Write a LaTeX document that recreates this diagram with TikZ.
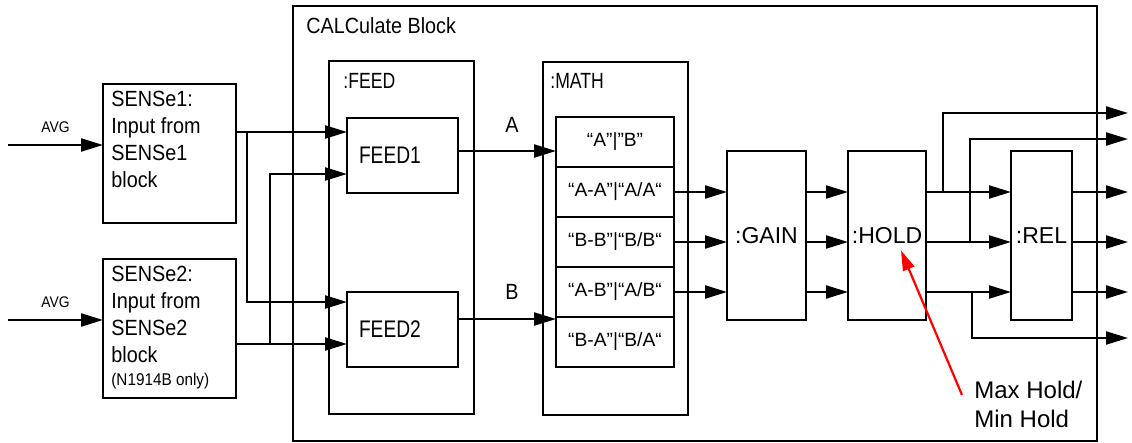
\documentclass[tikz,border=0pt]{standalone}
\usepackage{fontspec}
\setmainfont{Liberation Sans}
\newfontfamily\semifont[FakeStretch=0.9]{Liberation Sans}
\newfontfamily\narrowfont[FakeStretch=0.8]{Liberation Sans}
\usetikzlibrary{arrows.meta,positioning,calc}
\definecolor{HoldRed}{HTML}{FF0000}

\begin{document}
\begin{tikzpicture}[x=0.5pt,y=-0.5pt,
    blk/.style={draw,line width=1.4pt,inner sep=0pt,outer sep=0pt},
    cell/.style={blk,minimum width=59pt,minimum height=25pt,font=\fontsize{9.6}{11}\selectfont},
    stage/.style={blk,minimum height=84.5pt,font=\fontsize{11.5}{13}\selectfont},
    feedbox/.style={blk,minimum height=37.5pt,text width=43.5pt,inner xsep=6pt,
                    align=left,font=\narrowfont\fontsize{12}{14}\selectfont},
    wire/.style={line width=1.1pt},
    arr/.style={wire,-{Triangle[length=11pt,width=6.5pt]}},
    redarr/.style={HoldRed,line width=1.1pt,-{Triangle[length=10pt,width=6pt]}},
    txt/.style={anchor=north west,inner sep=0pt,align=left},
    tag/.style={inner sep=0pt}]
  \useasboundingbox (0,0) rectangle (1132,443);

  % outer block
  \node[blk,anchor=north west,minimum width=402pt,minimum height=217.5pt] (calc) at (293,6) {};
  \node[txt,font=\semifont\fontsize{11}{13}\selectfont] at ($(calc.north west)+(13,11)$) {CALCulate Block};

  % sensor inputs
  \node[blk,anchor=north west,minimum width=66.5pt,minimum height=69.5pt] (sens1) at (103,84) {};
  \node[blk,anchor=north west,minimum width=66.5pt,minimum height=69.5pt] (sens2) at (103,259) {};
  \node[txt,font=\semifont\fontsize{11}{13.5}\selectfont] at ($(sens1.north west)+(8,7)$)
    {SENSe1:\\Input from\\SENSe1\\block};
  \node[txt,font=\semifont\fontsize{11}{13.5}\selectfont] at ($(sens2.north west)+(8,7)$)
    {SENSe2:\\Input from\\SENSe2\\block\\[-2pt]{\fontsize{8.5}{11}\selectfont (N1914B only)}};

  % feed block
  \node[blk,anchor=north west,minimum width=72.5pt,minimum height=176.5pt] (feed) at (329,61) {};
  \node[txt,font=\narrowfont\fontsize{11}{13}\selectfont] at ($(feed.north west)+(14,12)$) {:FEED};
  \node[feedbox,anchor=north west] (feed1) at (347,118) {FEED1};
  \node[feedbox,anchor=north west] (feed2) at (347,292) {FEED2};

  % math block
  \node[blk,anchor=north west,minimum width=72.5pt,minimum height=176.5pt] (math) at (543,62) {};
  \node[txt,font=\narrowfont\fontsize{11}{13}\selectfont] at ($(math.north west)+(7,11)$) {:MATH};
  \node[cell,anchor=north west] (r1) at (556,117) {“A”|”B”};
  \node[cell,below=0pt of r1] (r2) {“A-A”|“A/A“};
  \node[cell,below=0pt of r2] (r3) {“B-B”|“B/B“};
  \node[cell,below=0pt of r3] (r4) {“A-B”|“A/B“};
  \node[cell,below=0pt of r4] (r5) {“B-A”|“B/A“};

  % gain, hold, rel
  \node[stage,anchor=north west,minimum width=39.5pt] (gain) at (727,151) {:GAIN};
  \node[stage,right=21pt of gain,minimum width=39pt] (hold) {:HOLD};
  \node[stage,right=42.5pt of hold,minimum width=30.5pt] (rel) {:REL};

  % inputs
  \coordinate (avg1) at (8,145);
  \coordinate (avg2) at (8,320);
  \draw[arr] (avg1) -- (sens1.west |- avg1)
    node[midway,tag,above=5.5pt,font=\semifont\fontsize{7.7}{9}\selectfont] {AVG};
  \draw[arr] (avg2) -- (sens2.west |- avg2)
    node[midway,tag,above=5.5pt,font=\semifont\fontsize{7.7}{9}\selectfont] {AVG};

  \coordinate (in1a) at ($(feed1.north west)+(0,14)$);
  \coordinate (in1b) at ($(feed1.north west)+(0,56)$);
  \coordinate (in2a) at ($(feed2.north west)+(0,10)$);
  \coordinate (in2b) at ($(feed2.north west)+(0,52)$);
  \draw[arr] (sens1.east |- in1a) -- (in1a);
  \draw[arr] ($(sens1.east |- in1a)+(11,0)$) |- (in2a);
  \draw[arr] (sens2.east |- in2b) -- (in2b);
  \draw[arr] ($(sens2.east |- in2b)+(34,0)$) |- (in1b);

  % feed to math
  \coordinate (pA) at ($(feed1.north east)+(0,33)$);
  \coordinate (pB) at ($(feed2.north east)+(0,27)$);
  \draw[arr] (pA) -- (r1.west |- pA)
    node[pos=0.55,tag,above=8.5pt,font=\semifont\fontsize{11}{13}\selectfont] {A};
  \draw[arr] (pB) -- (r1.west |- pB)
    node[pos=0.55,tag,above=9pt,font=\semifont\fontsize{11}{13}\selectfont] {B};

  % math through gain, hold, rel
  \coordinate (outx) at (1128,0);
  \foreach \row in {r2,r3,r4} {
    \draw[arr] (\row.east) -- (gain.west |- \row.east);
    \draw[arr] (gain.east |- \row.east) -- (hold.west |- \row.east);
    \draw[arr] (hold.east |- \row.east) -- (rel.west |- \row.east);
    \draw[arr] (rel.east |- \row.east) -- (outx |- \row.east);
  }
  \draw[arr] ($(hold.east |- r2.east)+(17,0)$) |- ($(outx |- rel.north)+(0,-38)$);
  \draw[arr] ($(hold.east |- r3.east)+(44,0)$) |- ($(outx |- rel.north)+(0,-12)$);
  \draw[arr] ($(hold.east |- r4.east)+(46,0)$) |- ($(outx |- rel.south)+(0,18)$);

  % annotation
  \node[txt,font=\fontsize{12}{14.5}\selectfont] (maxhold) at (974,381) {Max Hold/\\Min Hold};
  \coordinate (holdtip) at ($(hold.center)+(14,15)$);
  \draw[redarr] ($(maxhold.north west)+(-12,14)$) -- (holdtip);
\end{tikzpicture}
\end{document}
